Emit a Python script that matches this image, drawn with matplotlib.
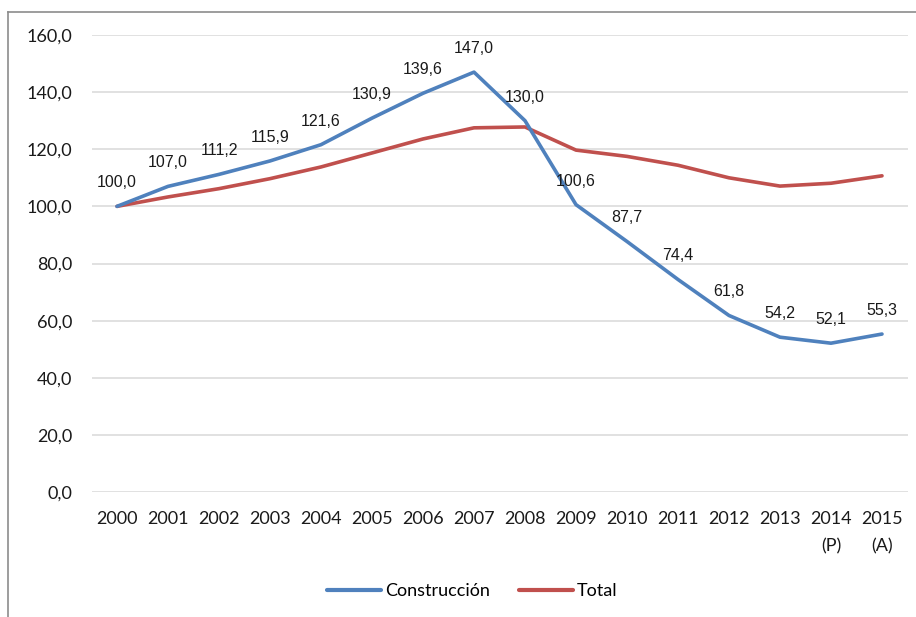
import matplotlib
matplotlib.use("Agg")
import matplotlib.pyplot as plt
from matplotlib.lines import Line2D
from matplotlib import font_manager

years = ["2000", "2001", "2002", "2003", "2004", "2005", "2006", "2007",
         "2008", "2009", "2010", "2011", "2012", "2013", "2014\n(P)", "2015\n(A)"]
construccion = [100.0, 107.0, 111.2, 115.9, 121.6, 130.9, 139.6, 147.0,
                130.0, 100.6, 87.7, 74.4, 61.8, 54.2, 52.1, 55.3]
total = [100.0, 103.3, 106.2, 109.7, 113.8, 118.7, 123.6, 127.5,
         127.8, 119.7, 117.5, 114.4, 110.0, 107.1, 108.1, 110.7]
yticks = [0, 20, 40, 60, 80, 100, 120, 140, 160]

blue = "#4F81BD"
red = "#C0504D"

# fuente estrecha para las etiquetas si existe
nombres = {f.name for f in font_manager.fontManager.ttflist}
if "Liberation Sans Narrow" in nombres:
    fam_lbl, tam_lbl = "Liberation Sans Narrow", 13
else:
    fam_lbl, tam_lbl = "Liberation Sans", 11.5

fig = plt.figure(figsize=(9.16, 6.17), dpi=100)
ax = fig.add_axes([91.5 / 916, 1 - 492 / 617, (907.5 - 91.5) / 916, (492 - 35) / 617])

x = list(range(len(years)))
ax.plot(x, construccion, color=blue, lw=2.6, label="Construcción", solid_capstyle="round", zorder=3)
ax.plot(x, total, color=red, lw=2.6, label="Total", solid_capstyle="round", zorder=2)

# etiquetas de datos
for xi, v in zip(x, construccion):
    ax.annotate(f"{v:.1f}".replace(".", ","), (xi, v), xytext=(0, 17), textcoords="offset points",
                ha="center", va="center", fontsize=tam_lbl, family=fam_lbl, color="#1a1a1a")

ax.set_xlim(-0.5, len(years) - 0.5)
ax.set_ylim(0, 160)
ax.set_yticks(yticks)
ax.set_yticklabels([f"{t:.1f}".replace(".", ",") for t in yticks], family="Lato", fontsize=13)
ax.set_xticks(x)
ax.set_xticklabels(years, family="Lato", fontsize=13, linespacing=1.8)
ax.tick_params(axis="both", length=0, colors="#1a1a1a")
ax.tick_params(axis="y", pad=14)
ax.tick_params(axis="x", pad=14)
ax.grid(axis="y", color="#D9D9D9", lw=1.1)
ax.set_axisbelow(True)
for s in ax.spines.values():
    s.set_visible(False)

leg = fig.legend(loc="center", bbox_to_anchor=(472 / 916, 1 - 591 / 617), ncol=2, frameon=False,
                 prop={"family": "Lato", "size": 13}, handlelength=3.0, handletextpad=0.2,
                 columnspacing=1.6)
for h in leg.get_lines():
    h.set_linewidth(3)

# marco del gráfico
fig.add_artist(Line2D([8 / 916, 8 / 916], [0, 1 - 12 / 617], color="#8c8c8c", lw=1.2, transform=fig.transFigure))
fig.add_artist(Line2D([8 / 916, 1], [1 - 12 / 617, 1 - 12 / 617], color="#8c8c8c", lw=1.2, transform=fig.transFigure))

fig.savefig("out.png", dpi=100)
